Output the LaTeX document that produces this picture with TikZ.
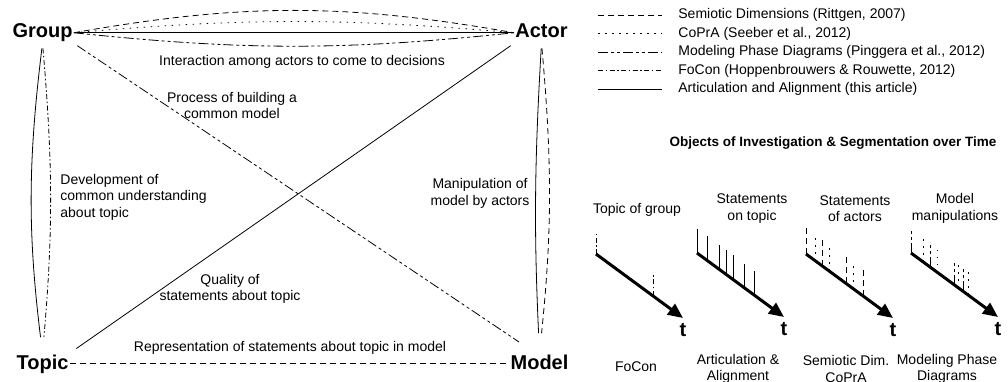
\documentclass[tikz,border=0pt]{standalone}
\usepackage{fontspec}
\setmainfont{Liberation Sans}
\usetikzlibrary{arrows.meta, positioning, calc}

\begin{document}
\begin{tikzpicture}[x=1pt, y=1pt, on grid, line width=0.8pt]
    \tikzstyle{concept}=[font=\bfseries\fontsize{20}{20}\selectfont, text height=14.5pt, text depth=4pt, inner sep=1pt]
    \tikzstyle{txt}=[font=\fontsize{14}{16.5}\selectfont, inner sep=0pt, align=center]
    \tikzstyle{tee}=[font=\bfseries\fontsize{20}{20}\selectfont, inner sep=0pt]
    \tikzstyle{semiotic}=[dash pattern=on 6pt off 4pt]
    \tikzstyle{copra}=[dash pattern=on 1.5pt off 5.5pt]
    \tikzstyle{phase}=[dash pattern=on 10pt off 3pt on 3pt off 3pt on 3pt off 3pt]
    \tikzstyle{focon}=[dash pattern=on 5pt off 2.5pt on 1.5pt off 2.5pt]
    \tikzstyle{artic}=[solid]
    \tikzstyle{timeline}=[line width=3pt, -{Triangle[length=15pt,width=13pt]}]

    \useasboundingbox (0,0) rectangle (1008,381);

    % the four concepts
    \node[concept] (G) at (42.5,348.25) {Group};
    \node[concept, right=499pt of G] (A) {Actor};
    \node[concept, below=331pt of G] (T) {Topic};
    \node[concept, right=497pt of T] (M) {Model};

    \draw[semiotic] (G.east) to[bend left=10] (A.west);
    \draw[copra] (G.east) to[bend left=5] (A.west);
    \draw[artic] (G.east) -- (A.west);
    \draw[phase] (G.east) to[bend right=6] (A.west);

    \draw[artic, shorten <=5pt, shorten >=16pt] (G.south) to[bend right=7] (T.north);
    \draw[focon, shorten <=5pt, shorten >=16pt] (G.south) to[bend left=5] (T.north);

    \draw[artic, shorten <=5pt, shorten >=20pt] (A.south) to[bend right=3] (M.north);
    \draw[semiotic, shorten <=5pt, shorten >=20pt] (A.south) to[bend left=5.5] (M.north);

    \draw[semiotic] (T.east) -- (M.west);
    \draw[artic, shorten <=4pt, shorten >=8pt] (A.south west) -- (T.north east);
    \draw[phase, shorten <=4pt, shorten >=20pt] (G.south east) -- (M.110);

    \node[txt] (interact) at (302,319) {Interaction among actors to come to decisions};
    \node[txt] (process) at (232,275.5) {Process of building a\\common model};
    \node[txt, anchor=west, align=left] (develop) at (60,184) {Development of\\common understanding\\about topic};
    \node[txt] (manip) at (480,187.5) {Manipulation of\\model by actors};
    \node[txt] (quality) at (230,92) {Quality of\\statements about topic};
    \node[txt] (repres) at (290,33) {Representation of statements about topic in model};

    % legend
    \foreach \s/\t [count=\i] in {semiotic/{Semiotic Dimensions (Rittgen, 2007)},
        copra/{CoPrA (Seeber et al., 2012)},
        phase/{Modeling Phase Diagrams (Pinggera et al., 2012)},
        focon/{FoCon (Hoppenbrouwers \& Rouwette, 2012)},
        artic/{Articulation and Alignment (this article)}} {
        \node[txt, anchor=west] (L\i) at (678,{366-18.5*(\i-1)}) {\t};
        \coordinate (l\i) at (598,{366-18.5*(\i-1)});
        \draw[\s, shorten >=16pt] (l\i) -- (L\i.west);
    }

    \node[font=\bfseries\fontsize{13.5}{16}\selectfont, inner sep=0pt] (objects) at (833,238)
        {Objects of Investigation \& Segmentation over Time};

    % time lines
    \coordinate (P1) at (596,127);
    \coordinate (P2) at (697,128);
    \coordinate (P3) at (806,127);
    \coordinate (P4) at (911,128);
    \foreach \p in {P1,P2,P3,P4} {
        \coordinate (\p t) at ($(\p)+(87,-64)$);
        \draw[timeline] (\p) -- (\p t);
        \node[tee] (\p tee) at ($(\p t)+(0,-12)$) {t};
    }
    \foreach \d in {0,57} \draw[focon] ($(P1)+(\d,-0.736*\d)$) -- ++(0,22);
    \foreach \d in {0,10,22,29,36,47,57} \draw[artic] ($(P2)+(\d,-0.736*\d)$) -- ++(0,24);
    \foreach \d in {0,16,40,57} \draw[semiotic] ($(P3)+(\d,-0.736*\d)$) -- ++(0,26);
    \foreach \d in {9,23,47} \draw[copra] ($(P3)+(\d,-0.736*\d)$) -- ++(0,26);
    \foreach \d in {0,19,43,52} \draw[phase] ($(P4)+(\d,-0.736*\d)$) -- ++(0,25);
    \foreach \d in {12,26,47,57} \draw[copra] ($(P4)+(\d,-0.736*\d)$) -- ++(0,25);

    \node[txt] (topgroup) at (637,171) {Topic of group};
    \node[txt] (stmtopic) at (752,172.5) {Statements\\on topic};
    \node[txt] (stmactor) at (855,172.5) {Statements\\of actors};
    \node[txt] (modmanip) at (955,172.5) {Model\\manipulations};

    \node[txt] (focon) at (636,14) {FoCon};
    \node[txt] (artic) at (738,12) {Articulation \&\\Alignment};
    \node[txt] (semcop) at (846,12) {Semiotic Dim.\\CoPrA};
    \node[txt] (phase) at (947,12) {Modeling Phase\\Diagrams};
\end{tikzpicture}
\end{document}
